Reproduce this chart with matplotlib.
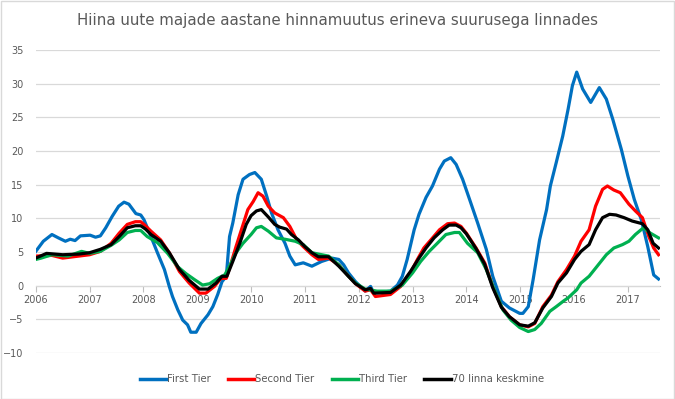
import matplotlib
matplotlib.use("Agg")
import matplotlib.pyplot as plt
from matplotlib.patches import Rectangle

# values (decimal year, % change y/y)
title = "Hiina uute majade aastane hinnamuutus erineva suurusega linnades"
labels = ["First Tier", "Second Tier", "Third Tier", "70 linna keskmine"]
colors = ["#0070C0", "#FF0000", "#00B050", "#000000"]
years = list(range(2006, 2018))
yticks = [-10, -5, 0, 5, 10, 15, 20, 25, 30, 35]

first_x = [2006.0, 2006.14, 2006.3, 2006.42, 2006.55, 2006.64, 2006.73, 2006.83, 2007.01, 2007.11,
           2007.2, 2007.3, 2007.42, 2007.54, 2007.64, 2007.73, 2007.86, 2007.95, 2008.01, 2008.14,
           2008.26, 2008.39, 2008.48, 2008.54, 2008.64, 2008.73, 2008.82, 2008.88, 2008.98, 2009.07,
           2009.2, 2009.29, 2009.38, 2009.46, 2009.54, 2009.6, 2009.66, 2009.76, 2009.85, 2009.97,
           2010.07, 2010.19, 2010.29, 2010.38, 2010.5, 2010.63, 2010.72, 2010.82, 2010.97, 2011.13,
           2011.31, 2011.5, 2011.63, 2011.72, 2011.81, 2011.94, 2012.12, 2012.22, 2012.28, 2012.59,
           2012.72, 2012.81, 2012.9, 2013.03, 2013.12, 2013.25, 2013.37, 2013.5, 2013.59, 2013.71,
           2013.81, 2013.93, 2014.06, 2014.21, 2014.37, 2014.49, 2014.65, 2014.8, 2014.99, 2015.05,
           2015.15, 2015.24, 2015.36, 2015.49, 2015.56, 2015.67, 2015.79, 2015.89, 2015.97, 2016.05,
           2016.16, 2016.31, 2016.47, 2016.6, 2016.72, 2016.88, 2017.0, 2017.12, 2017.25, 2017.37,
           2017.48, 2017.57]
first_y = [5.1, 6.6, 7.6, 7.1, 6.6, 6.9, 6.7, 7.4, 7.5, 7.2,
           7.4, 8.6, 10.3, 11.8, 12.4, 12.1, 10.7, 10.5, 9.8, 7.3,
           4.9, 2.4, -0.1, -1.6, -3.6, -5.1, -5.8, -6.9, -6.9, -5.6,
           -4.3, -3.1, -1.3, 0.6, 1.4, 7.3, 9.3, 13.5, 15.8, 16.5,
           16.8, 15.8, 13.3, 10.8, 8.3, 6.3, 4.4, 3.1, 3.4, 2.9,
           3.6, 4.1, 3.9, 3.1, 1.9, 0.6, -0.8, -0.1, -1.1, -0.8,
           0.1, 1.4, 3.9, 8.3, 10.6, 13.1, 14.8, 17.3, 18.5, 19.0,
           18.0, 15.8, 12.8, 9.3, 5.4, 1.4, -2.3, -3.3, -4.1, -4.1,
           -3.1, 0.9, 6.8, 11.3, 14.8, 18.3, 22.2, 26.2, 29.7, 31.7,
           29.2, 27.2, 29.4, 27.7, 24.7, 20.2, 16.3, 12.8, 9.8, 5.8,
           1.6, 1.0]

second_x = [2006.0, 2006.3, 2006.5, 2006.8, 2007.0, 2007.2, 2007.4, 2007.55, 2007.7, 2007.85,
            2007.95, 2008.01, 2008.14, 2008.32, 2008.48, 2008.67, 2008.85, 2009.04, 2009.16, 2009.32,
            2009.44, 2009.54, 2009.63, 2009.72, 2009.82, 2009.94, 2010.04, 2010.13, 2010.22, 2010.32,
            2010.44, 2010.6, 2010.72, 2010.85, 2010.97, 2011.13, 2011.25, 2011.44, 2011.63, 2011.81,
            2011.94, 2012.12, 2012.22, 2012.31, 2012.59, 2012.78, 2012.96, 2013.09, 2013.21, 2013.34,
            2013.5, 2013.65, 2013.78, 2013.9, 2014.0, 2014.18, 2014.34, 2014.49, 2014.65, 2014.8,
            2014.99, 2015.15, 2015.27, 2015.42, 2015.58, 2015.7, 2015.86, 2016.01, 2016.13, 2016.28,
            2016.4, 2016.53, 2016.62, 2016.74, 2016.86, 2017.02, 2017.14, 2017.27, 2017.39, 2017.48,
            2017.57]
second_y = [4.4, 4.5, 4.1, 4.4, 4.6, 5.1, 6.3, 7.8, 9.1, 9.5,
            9.5, 9.1, 8.1, 6.8, 4.9, 2.1, 0.4, -1.1, -1.1, -0.1,
            1.1, 1.1, 3.4, 5.8, 8.3, 11.3, 12.5, 13.8, 13.3, 11.8,
            10.8, 10.1, 8.8, 6.8, 5.8, 4.6, 3.9, 4.1, 3.1, 1.4,
            0.3, -0.8, -0.6, -1.6, -1.3, -0.1, 1.9, 3.9, 5.6, 6.8,
            8.3, 9.2, 9.3, 8.8, 7.8, 5.6, 3.4, -0.1, -3.1, -4.6,
            -5.8, -6.1, -5.6, -3.1, -1.4, 0.6, 2.4, 4.4, 6.6, 8.3,
            11.8, 14.3, 14.8, 14.2, 13.8, 12.1, 11.1, 10.1, 7.3, 5.6,
            4.6]

third_x = [2006.0, 2006.1, 2006.3, 2006.6, 2006.85, 2007.0, 2007.2, 2007.4, 2007.55, 2007.7,
           2007.85, 2007.95, 2008.07, 2008.26, 2008.45, 2008.64, 2008.79, 2008.95, 2009.1, 2009.23,
           2009.38, 2009.51, 2009.6, 2009.72, 2009.85, 2010.0, 2010.1, 2010.19, 2010.32, 2010.47,
           2010.63, 2010.82, 2010.97, 2011.13, 2011.25, 2011.44, 2011.63, 2011.81, 2011.94, 2012.12,
           2012.34, 2012.59, 2012.81, 2013.0, 2013.15, 2013.31, 2013.46, 2013.62, 2013.78, 2013.87,
           2014.02, 2014.21, 2014.37, 2014.52, 2014.68, 2014.83, 2014.99, 2015.15, 2015.27, 2015.39,
           2015.55, 2015.67, 2015.8, 2015.89, 2016.05, 2016.13, 2016.28, 2016.43, 2016.6, 2016.74,
           2016.9, 2017.02, 2017.14, 2017.29, 2017.42, 2017.57]
third_y = [3.9, 4.1, 4.6, 4.4, 5.1, 4.8, 5.1, 6.0, 6.8, 7.9,
           8.2, 8.2, 7.3, 6.4, 4.8, 2.8, 1.8, 0.9, 0.1, 0.3,
           1.1, 1.6, 2.9, 4.9, 6.3, 7.6, 8.6, 8.8, 8.1, 7.1,
           6.9, 6.6, 6.1, 4.9, 4.7, 4.4, 3.1, 1.4, 0.4, -0.5,
           -0.8, -0.8, 0.1, 1.9, 3.6, 5.1, 6.3, 7.6, 7.9, 7.9,
           6.3, 4.9, 2.4, -0.6, -3.6, -5.1, -6.2, -6.8, -6.5, -5.6,
           -3.8, -3.1, -2.3, -1.8, -0.6, 0.4, 1.4, 2.9, 4.6, 5.6,
           6.1, 6.6, 7.6, 8.6, 7.8, 7.1]

avg_x = [2006.0, 2006.2, 2006.5, 2006.8, 2007.0, 2007.2, 2007.4, 2007.55, 2007.7, 2007.85,
         2007.95, 2008.04, 2008.14, 2008.32, 2008.48, 2008.67, 2008.85, 2009.04, 2009.2, 2009.35,
         2009.46, 2009.55, 2009.66, 2009.79, 2009.91, 2010.0, 2010.1, 2010.19, 2010.32, 2010.44,
         2010.53, 2010.66, 2010.75, 2010.88, 2011.0, 2011.13, 2011.25, 2011.44, 2011.63, 2011.81,
         2011.94, 2012.12, 2012.22, 2012.28, 2012.59, 2012.78, 2012.96, 2013.12, 2013.25, 2013.4,
         2013.56, 2013.68, 2013.81, 2013.9, 2014.0, 2014.18, 2014.34, 2014.49, 2014.65, 2014.8,
         2014.99, 2015.15, 2015.27, 2015.42, 2015.58, 2015.7, 2015.86, 2016.01, 2016.13, 2016.28,
         2016.4, 2016.53, 2016.66, 2016.78, 2016.93, 2017.08, 2017.27, 2017.37, 2017.47, 2017.57]
avg_y = [4.1, 4.8, 4.6, 4.7, 4.9, 5.4, 6.1, 7.3, 8.6, 8.9,
         8.9, 8.4, 7.6, 6.6, 4.9, 2.4, 0.8, -0.5, -0.5, 0.4,
         1.4, 1.4, 3.6, 6.3, 9.1, 10.4, 11.1, 11.3, 10.2, 9.1,
         8.7, 8.4, 7.6, 6.8, 5.8, 4.9, 4.3, 4.3, 2.9, 1.4,
         0.3, -0.6, -0.4, -1.1, -1.0, 0.1, 2.1, 4.1, 5.6, 7.1,
         8.3, 9.0, 9.0, 8.6, 7.7, 5.5, 3.2, -0.3, -3.2, -4.6,
         -5.8, -6.0, -5.5, -3.3, -1.6, 0.4, 1.9, 3.9, 5.1, 6.1,
         8.3, 10.1, 10.6, 10.5, 10.1, 9.6, 9.2, 8.3, 6.3, 5.6]

series = [(first_x, first_y), (second_x, second_y), (third_x, third_y), (avg_x, avg_y)]

txt = "#595959"
grid = "#d9d9d9"

fig = plt.figure(figsize=(6.75, 3.99), dpi=100)
ax = fig.add_axes([0.053, 0.115, 0.925, 0.76])

for (xs, ys), lab, col in zip(series, labels, colors):
    ax.plot(xs, ys, color=col, lw=2.3, label=lab, solid_joinstyle="round")

ax.set_xlim(2006, 2017.6)
ax.set_ylim(-10, 35)
ax.set_yticks(yticks)
ax.set_xticks(years)
ax.set_xticklabels([str(y) for y in years])
ax.yaxis.grid(True, color=grid, lw=0.9)
ax.set_axisbelow(True)

for s in ["top", "right", "left"]:
    ax.spines[s].set_visible(False)
ax.spines["bottom"].set_position(("data", 0))
ax.spines["bottom"].set_color("#bfbfbf")
ax.spines["bottom"].set_zorder(0.5)
ax.tick_params(axis="x", direction="out", length=4, color="#bfbfbf", labelsize=7,
               labelcolor=txt, pad=3)
ax.tick_params(axis="y", length=0, labelsize=7, labelcolor=txt, pad=9)

fig.text(0.5, 1 - 20 / 399, title, ha="center", va="center", fontsize=10.8, color=txt)

leg = ax.legend(loc="center", bbox_to_anchor=(0.49, -0.086), ncol=4, frameon=False,
                fontsize=7.3, handlelength=2.6, handletextpad=0.1, columnspacing=1.7)
for t in leg.get_texts():
    t.set_color(txt)
for h in leg.get_lines():
    h.set_linewidth(2.5)

fig.patches.append(Rectangle((0.001, 0.001), 0.997, 0.997, transform=fig.transFigure,
                             fill=False, edgecolor=grid, lw=1))

fig.savefig("out.png", dpi=100)
